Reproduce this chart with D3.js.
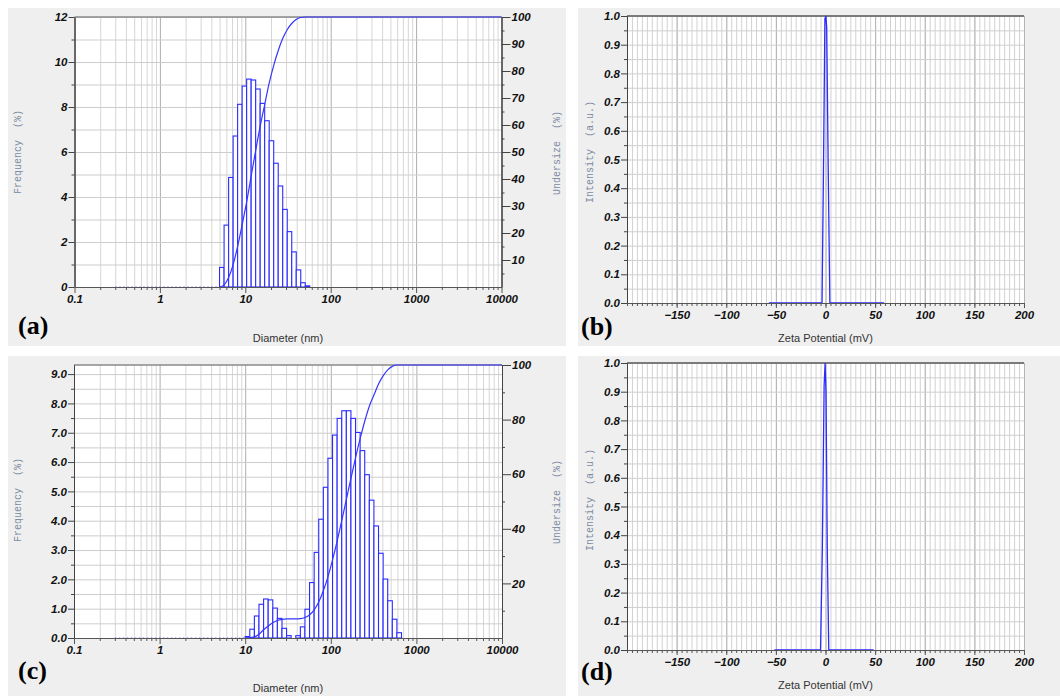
<!DOCTYPE html>
<html>
<head>
<meta charset="utf-8">
<script src="https://cdn.jsdelivr.net/npm/d3@7"></script>
<style>
  body { margin: 0; background: #fff; }
  .tick text { font-family: "Liberation Sans", Arial, sans-serif; font-weight: bold; font-style: italic; font-size: 11.5px; fill: #111; }
  .grid .domain { display: none; }
  .ytitle { font-family: "Liberation Mono", "DejaVu Sans Mono", monospace; font-size: 10px; fill: #7d8ca3; white-space: pre; }
  .xtitle { font-family: "Liberation Sans", Arial, sans-serif; font-size: 11px; fill: #333; }
  .letter { font-family: "Liberation Serif", "Times New Roman", serif; font-weight: bold; font-size: 26px; fill: #000; }
</style>
</head>
<body>
<svg id="fig" width="1060" height="696"></svg>
<script>
// tick labels
const decades = [0.1, 1, 10, 100, 1000, 10000];
const freqTicksA = [0, 2, 4, 6, 8, 10, 12];
const freqTicksC = [0, 1, 2, 3, 4, 5, 6, 7, 8, 9];
const underTicksA = [10, 20, 30, 40, 50, 60, 70, 80, 90, 100];
const underTicksC = [20, 40, 60, 80, 100];
const zetaTicks = [-150, -100, -50, 0, 50, 100, 150, 200];
const intTicks = [0, 0.1, 0.2, 0.3, 0.4, 0.5, 0.6, 0.7, 0.8, 0.9, 1.0];

// (a) size distribution: bin centres (nm) and frequency (%)
const sizeA = [5.31, 6.00, 6.78, 7.65, 8.64, 9.76, 11.02, 12.45, 14.05, 15.87, 17.92, 20.24, 22.86, 25.81, 29.15, 32.92, 37.17, 41.98, 47.40, 53.53];
const freqA = [0.87, 2.75, 4.87, 6.71, 8.12, 8.93, 9.24, 9.20, 8.80, 8.16, 7.39, 6.50, 5.50, 4.49, 3.45, 2.46, 1.56, 0.76, 0.19, 0.05];
// (a) undersize curve
const cumSizeA = [5.0, 5.65, 6.38, 7.20, 8.13, 9.18, 10.37, 11.70, 13.22, 14.92, 16.85, 19.03, 21.48, 24.26, 27.39, 30.93, 34.92, 39.43, 44.53, 50.28, 10000];
const cumA = [0, 0.8, 3.5, 8.3, 15.0, 23.0, 31.5, 41.0, 50.5, 59.5, 67.5, 75.5, 82.0, 87.5, 92.0, 95.3, 97.6, 99.1, 99.8, 100, 100];

// (c) size distribution
const sizeC = [10.64, 12.04, 13.62, 15.42, 17.45, 19.74, 22.34, 25.28, 28.61, 32.37, 36.63, 41.46, 46.92, 53.09, 60.08, 67.98, 76.93, 87.06, 98.51, 111.5, 126.2, 142.8, 161.6, 182.8, 206.9, 234.1, 265.0, 299.9, 339.3, 384.0, 434.5, 491.7, 556.4, 629.6];
const freqC = [0.05, 0.30, 0.75, 1.15, 1.33, 1.30, 1.02, 0.67, 0.33, 0.08, 0, 0.08, 0.38, 0.98, 1.89, 2.92, 4.05, 5.14, 6.13, 6.92, 7.49, 7.75, 7.75, 7.49, 7.01, 6.39, 5.57, 4.70, 3.82, 2.89, 2.01, 1.27, 0.64, 0.18];
const cumSizeC = [10.0, 12.8, 14.5, 16.4, 18.6, 21.0, 23.8, 27.0, 30.5, 39.0, 44.1, 49.9, 56.4, 63.9, 72.3, 81.8, 92.6, 104.8, 118.6, 134.2, 151.9, 171.9, 194.5, 220.1, 249.1, 281.9, 319, 361, 408.5, 462.3, 523, 592, 10000];
const cumC = [0, 0.4, 1.4, 3.0, 4.4, 5.6, 6.4, 6.8, 7.0, 7.0, 7.1, 7.5, 8.4, 10.3, 13.2, 17.3, 22.4, 28.6, 35.5, 43.0, 50.7, 58.5, 66.0, 73.0, 79.4, 84.9, 89.0, 93.0, 96.0, 98.2, 99.5, 100, 100];

// (b), (d) zeta potential
const zetaB = [-57, -3.5, -2.0, -0.6, 0.4, 1.2, 2.8, 4.4, 59];
const intB = [0, 0, 0.48, 0.99, 1.0, 0.96, 0.45, 0, 0];
const zetaD = [-51.5, -5.0, -3.2, -1.4, -0.4, 0.5, 1.8, 3.3, 48.5];
const intD = [0, 0, 0.35, 0.92, 1.0, 0.9, 0.35, 0, 0];

const svg = d3.select('#fig');
const blue = '#2b2bff';

function minorLog() {
  let t = [];
  for (let k = -1; k < 4; k++) for (let m = 2; m < 10; m++) t.push(m * Math.pow(10, k));
  return t;
}

function sizePanel(p) {
  let g = svg.append('g');
  g.append('rect').attr('x', p.box[0]).attr('y', p.box[1]).attr('width', p.box[2]).attr('height', p.box[3]).attr('fill', '#efefef');
  g.append('rect').attr('x', p.l).attr('y', p.t).attr('width', p.r - p.l).attr('height', p.b - p.t).attr('fill', '#fff');

  let x = d3.scaleLog().domain([0.1, 10000]).range([p.l, p.r]);
  let y = d3.scaleLinear().domain([0, p.yMax]).range([p.b, p.t]);
  let yR = d3.scaleLinear().domain([0, 100]).range([p.b, p.t]);
  let h = p.b - p.t, w = p.r - p.l;

  // grid
  g.append('g').attr('class', 'grid').attr('transform', 'translate(0,' + p.b + ')')
    .call(d3.axisBottom(x).tickValues(minorLog()).tickSize(-h).tickFormat(''))
    .selectAll('line').attr('stroke', '#d6d6d6');
  g.append('g').attr('class', 'grid').attr('transform', 'translate(0,' + p.b + ')')
    .call(d3.axisBottom(x).tickValues(decades).tickSize(-h).tickFormat(''))
    .selectAll('line').attr('stroke', '#aeaeae');
  g.append('g').attr('class', 'grid').attr('transform', 'translate(' + p.l + ',0)')
    .call(d3.axisLeft(y).tickValues(p.yGrid).tickSize(-w).tickFormat(''))
    .selectAll('line').attr('stroke', '#cdcdcd');

  g.append('line').attr('x1', p.l).attr('x2', p.r).attr('y1', p.t).attr('y2', p.t)
    .attr('stroke', '#8a8a8a').attr('stroke-width', 1.5);

  // bin edges from the centres
  let s = p.sizes, n = s.length, edges = [];
  for (let i = 1; i < n; i++) edges[i] = Math.sqrt(s[i - 1] * s[i]);
  edges[0] = s[0] * s[0] / edges[1];
  edges[n] = s[n - 1] * s[n - 1] / edges[n - 1];

  let bins = s.map((d, i) => ({ lo: edges[i], hi: edges[i + 1], f: p.freqs[i] })).filter(d => d.f > 0);

  g.append('line').attr('x1', x(0.3)).attr('x2', x(edges[0])).attr('y1', y(0)).attr('y2', y(0))
    .attr('stroke', '#7373ff').attr('stroke-dasharray', '1.5,2.5');

  g.selectAll('rect.bar').data(bins).enter().append('rect')
    .attr('class', 'bar')
    .attr('x', d => x(d.lo))
    .attr('width', d => x(d.hi) - x(d.lo))
    .attr('y', d => y(d.f))
    .attr('height', d => y(0) - y(d.f))
    .attr('fill', '#fff')
    .attr('stroke', blue)
    .attr('stroke-width', 1.1);

  let cum = p.cumSizes.map((d, i) => ({ s: d, v: p.cum[i] }));
  g.append('path').datum(cum)
    .attr('fill', 'none').attr('stroke', '#3636ff').attr('stroke-width', 1.2)
    .attr('d', d3.line().x(d => x(d.s)).y(d => yR(d.v)).curve(d3.curveMonotoneX));

  // axes
  g.append('g').attr('transform', 'translate(' + p.l + ',0)').attr('color', '#444')
    .call(d3.axisLeft(y).tickValues(p.yMinor).tickSize(3).tickSizeOuter(0).tickFormat(''));
  g.append('g').attr('transform', 'translate(' + p.l + ',0)').attr('color', '#444')
    .call(d3.axisLeft(y).tickValues(p.yTicks).tickSize(6).tickSizeOuter(0).tickPadding(1).tickFormat(p.yFmt));
  g.append('g').attr('transform', 'translate(' + p.r + ',0)').attr('color', '#444')
    .call(d3.axisRight(yR).tickValues(p.rMinor).tickSize(3).tickSizeOuter(0).tickFormat(''));
  g.append('g').attr('transform', 'translate(' + p.r + ',0)').attr('color', '#444')
    .call(d3.axisRight(yR).tickValues(p.rTicks).tickSize(9).tickSizeOuter(0).tickPadding(1));
  g.append('g').attr('transform', 'translate(0,' + p.b + ')').attr('color', '#555')
    .call(d3.axisBottom(x).tickValues(minorLog()).tickSize(3).tickSizeOuter(0).tickFormat(''));
  g.append('g').attr('transform', 'translate(0,' + p.b + ')').attr('color', '#555')
    .call(d3.axisBottom(x).tickValues(decades).tickSize(6).tickSizeOuter(0).tickPadding(2).tickFormat(d => String(d)));

  g.append('text').attr('class', 'ytitle').attr('text-anchor', 'middle')
    .attr('transform', 'translate(' + p.yt[0] + ',' + p.yt[1] + ') rotate(-90)').text('Frequency  (%)');
  g.append('text').attr('class', 'ytitle').attr('text-anchor', 'middle')
    .attr('transform', 'translate(' + p.rt[0] + ',' + p.rt[1] + ') rotate(-90)').text('Undersize  (%)');
  g.append('text').attr('class', 'xtitle').attr('text-anchor', 'middle')
    .attr('x', (p.l + p.r) / 2).attr('y', p.xt).text('Diameter (nm)');
  g.append('text').attr('class', 'letter').attr('x', p.lab[0]).attr('y', p.lab[1]).text(p.letter);
}

function zetaPanel(p) {
  let g = svg.append('g');
  g.append('rect').attr('x', p.box[0]).attr('y', p.box[1]).attr('width', p.box[2]).attr('height', p.box[3]).attr('fill', '#efefef');
  g.append('rect').attr('x', p.l).attr('y', p.t).attr('width', p.r - p.l).attr('height', p.b - p.t).attr('fill', '#fff');

  let x = d3.scaleLinear().domain([-200, 200]).range([p.l, p.r]);
  let y = d3.scaleLinear().domain([0, 1]).range([p.b, p.t]);
  let h = p.b - p.t, w = p.r - p.l;

  g.append('g').attr('class', 'grid').attr('transform', 'translate(0,' + p.b + ')')
    .call(d3.axisBottom(x).tickValues(d3.range(-200, 201, 5)).tickSize(-h).tickFormat(''))
    .selectAll('line').attr('stroke', '#d2d2d2');
  g.append('g').attr('class', 'grid').attr('transform', 'translate(0,' + p.b + ')')
    .call(d3.axisBottom(x).tickValues(d3.range(-200, 201, 50)).tickSize(-h).tickFormat(''))
    .selectAll('line').attr('stroke', '#b4b4b4');
  g.append('g').attr('class', 'grid').attr('transform', 'translate(' + p.l + ',0)')
    .call(d3.axisLeft(y).tickValues(d3.range(0, 1.001, 0.05)).tickSize(-w).tickFormat(''))
    .selectAll('line').attr('stroke', '#cfcfcf');

  g.append('line').attr('x1', p.l).attr('x2', p.r).attr('y1', p.t).attr('y2', p.t)
    .attr('stroke', '#7a7a7a').attr('stroke-width', 2);

  let pts = p.mv.map((d, i) => ({ v: d, i: p.int[i] }));
  g.append('path').datum(pts)
    .attr('fill', 'none').attr('stroke', blue).attr('stroke-width', 1.3)
    .attr('d', d3.line().x(d => x(d.v)).y(d => y(d.i)));

  g.append('g').attr('transform', 'translate(' + p.l + ',0)').attr('color', '#444')
    .call(d3.axisLeft(y).tickValues(d3.range(0.05, 1, 0.1)).tickSize(3).tickSizeOuter(0).tickFormat(''));
  g.append('g').attr('transform', 'translate(' + p.l + ',0)').attr('color', '#444')
    .call(d3.axisLeft(y).tickValues(intTicks).tickSize(6).tickSizeOuter(0).tickPadding(1).tickFormat(d3.format('.1f')));
  g.append('g').attr('transform', 'translate(0,' + p.b + ')').attr('color', '#555')
    .call(d3.axisBottom(x).tickValues(d3.range(-200, 201, 5)).tickSize(3).tickSizeOuter(0).tickFormat(''));
  g.append('g').attr('transform', 'translate(0,' + p.b + ')').attr('color', '#555')
    .call(d3.axisBottom(x).tickValues(zetaTicks).tickSize(5).tickSizeOuter(0).tickPadding(3));

  g.append('text').attr('class', 'ytitle').attr('text-anchor', 'middle')
    .attr('transform', 'translate(' + p.yt[0] + ',' + p.yt[1] + ') rotate(-90)').text('Intensity  (a.u.)');
  g.append('text').attr('class', 'xtitle').attr('text-anchor', 'middle')
    .attr('x', x(0)).attr('y', p.xt).text('Zeta Potential (mV)');
  g.append('text').attr('class', 'letter').attr('x', p.lab[0]).attr('y', p.lab[1]).text(p.letter);
}

sizePanel({
  box: [8, 8, 558, 338], l: 74.5, r: 501.5, t: 17, b: 287, yMax: 12,
  sizes: sizeA, freqs: freqA, cumSizes: cumSizeA, cum: cumA,
  yTicks: freqTicksA, yMinor: [1, 3, 5, 7, 9, 11], yGrid: d3.range(0, 12.5, 1), yFmt: d3.format('d'),
  rTicks: underTicksA, rMinor: d3.range(5, 100, 10),
  yt: [21, 152], rt: [560, 153], xt: 342, lab: [18, 334], letter: '(a)'
});

sizePanel({
  box: [8, 356, 558, 340], l: 74, r: 502, t: 365, b: 638, yMax: 9.31,
  sizes: sizeC, freqs: freqC, cumSizes: cumSizeC, cum: cumC,
  yTicks: freqTicksC, yMinor: d3.range(0.5, 9.2, 1), yGrid: d3.range(0, 9.2, 0.5), yFmt: d3.format('.1f'),
  rTicks: underTicksC, rMinor: d3.range(10, 100, 20),
  yt: [21, 500], rt: [560, 502], xt: 692, lab: [18, 679], letter: '(c)'
});

zetaPanel({
  box: [578, 8, 482, 338], l: 627, r: 1024, t: 16, b: 303,
  mv: zetaB, int: intB, yt: [593, 152], xt: 342, lab: [581, 335], letter: '(b)'
});

zetaPanel({
  box: [578, 356, 482, 340], l: 627, r: 1024, t: 363, b: 650,
  mv: zetaD, int: intD, yt: [593, 500], xt: 689, lab: [581, 680], letter: '(d)'
});
</script>
</body>
</html>
